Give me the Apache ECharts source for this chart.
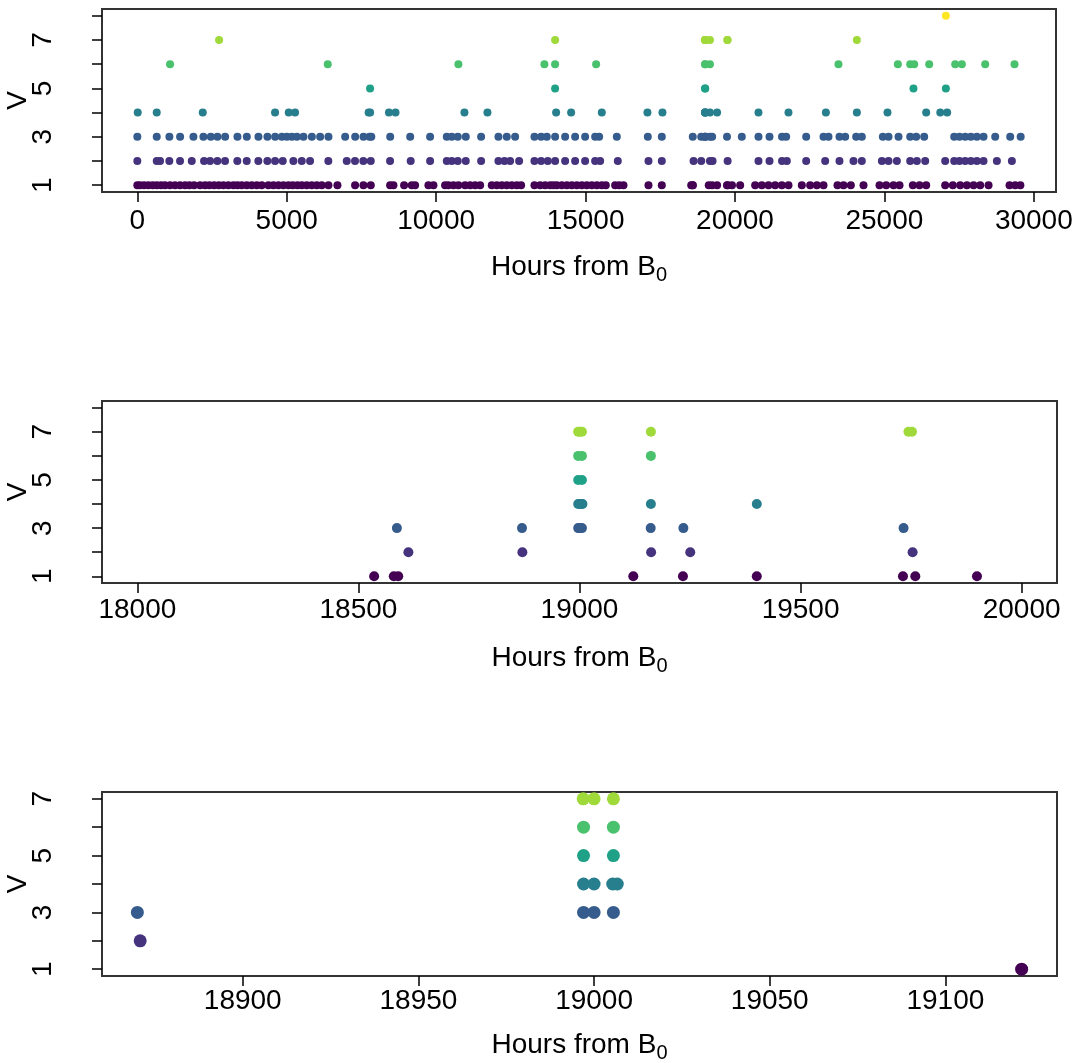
<!DOCTYPE html>
<html><head><meta charset="utf-8">
<script src="https://cdn.jsdelivr.net/npm/echarts@6/dist/echarts.min.js"></script>
<style>html,body{margin:0;padding:0;background:#fff}#c{width:1088px;height:1063px}</style>
</head><body><div id="c"></div>
<script>
// ---- data: event times (hours from B0) for each level V ----
const levels = [1, 2, 3, 4, 5, 6, 7, 8];
const levelColors = ["#440154", "#46337E", "#365C8D", "#277F8E", "#1FA187", "#4AC16D", "#9FDA3A", "#FDE725"];

const hoursV1 = [0, 91, 225, 370, 515, 649, 794, 928, 1095, 1262, 1430, 1597, 1742, 1898, 2099, 2266, 2411, 2568, 2724, 2880, 3047, 3215, 3349, 3494, 3661, 3828, 3996, 4163, 4386, 4554, 4721, 4888, 5056, 5201, 5357, 5502, 5669, 5837, 6004, 6171, 6395, 6696, 7287, 7566, 7812, 8459, 8570, 8927, 9184, 9295, 9741, 9909, 10299, 10411, 10578, 10745, 10969, 11136, 11303, 11471, 11861, 12029, 12196, 12363, 12531, 12698, 12843, 13289, 13479, 13646, 13813, 13925, 14037, 14204, 14372, 14539, 14706, 14874, 15041, 15208, 15376, 15543, 15677, 15989, 16123, 16268, 17105, 17551, 18535.5, 18580, 18590, 19121.7, 19234, 19401, 19731.6, 19759.5, 19899, 20173, 20675, 20898, 21121, 21344, 21567, 21790, 22237, 22515, 22739, 22962, 23430, 23631, 23877, 24301, 24836, 25060, 25305, 25506, 25952, 26175, 26398, 27034, 27291, 27536, 27760, 27983, 28206, 28485, 29188, 29377, 29550];
const hoursV2 = [0, 649, 760, 1071, 1429, 1821, 2233, 2434, 2678, 2935, 3346, 3661, 4049, 4351, 4609, 4866, 5221, 5502, 5780, 6392, 7008, 7285, 7563, 7811, 8457, 9148, 9797, 10355, 10522, 10723, 10991, 11504, 12084, 12285, 12475, 12776, 13289, 13512, 13735, 13981, 14316, 14650, 14985, 15320, 15487, 16078, 17105, 17551, 18613, 18870.8, 19162, 19250.5, 19753.4, 20786, 21155, 21574, 21735, 22382, 23018, 23497, 23966, 24245, 24915, 25138, 25417, 25863, 26086, 26365, 27034, 27336, 27514, 27704, 27893, 28094, 28317, 28764, 29266];
const hoursV3 = [0, 649, 1073, 1431, 1877, 2211, 2459, 2680, 2938, 3350, 3664, 4053, 4354, 4611, 4836, 5003, 5171, 5338, 5559, 5840, 6118, 6396, 6955, 7290, 7568, 7769, 7830, 8462, 9131, 9797, 10355, 10522, 10723, 10991, 11504, 12084, 12363, 12642, 13289, 13512, 13702, 13981, 14316, 14650, 14985, 15320, 15454, 16045, 17083, 17551, 18587, 18870, 18997, 19000, 19005.5, 19161, 19235, 19733, 20228, 20786, 21155, 21574, 21712, 22382, 22962, 23129, 23497, 23687, 24055, 24245, 24948, 25138, 25472, 25863, 26063, 26331, 27336, 27514, 27704, 27893, 28094, 28317, 28708, 29210, 29560];
const hoursV4 = [13, 649, 2189, 4609, 5067, 5278, 7740, 7790, 8420, 8640, 10946, 11716, 14014, 14516, 15543, 17070, 17572, 18997, 19000, 19005.3, 19006.6, 19161.5, 19401, 20786, 21790, 23042, 24079, 25103, 26398, 26870, 27100];
const hoursV5 = [7788, 13980, 18997, 19005.5, 25973, 27057];
const hoursV6 = [1095, 6372, 10744, 13622, 13980, 15353, 18997, 19005.5, 19161.5, 23463, 25450, 25863, 25997, 26499, 27369, 27592, 28373, 29354];
const hoursV7 = [2735, 13980, 18996.9, 19000, 19005.5, 19161.5, 19744, 19752, 24079];
const hoursV8 = [27057];

// ---- axis ticks / labels ----
const xTicksTop = [0, 5000, 10000, 15000, 20000, 25000, 30000];
const xTicksMid = [18000, 18500, 19000, 19500, 20000];
const xTicksBot = [18900, 18950, 19000, 19050, 19100];
const yTicksFull = [1, 2, 3, 4, 5, 6, 7, 8];
const yTicksBot = [1, 2, 3, 4, 5, 6, 7];
const yLabelVals = [1, 3, 5, 7];
const xlimMid = [18000, 20000];
const xlimBot = [18870, 19121.7];
const xTitle = '{a|Hours from B}{s|0}';
const yTitle = 'V';

const hoursByLevel = [hoursV1, hoursV2, hoursV3, hoursV4, hoursV5, hoursV6, hoursV7, hoursV8];

// R-style 4% axis expansion
function expand(lo, hi) { const d = (hi - lo) * 0.04; return [lo - d, hi + d]; }
const allHours = [].concat(...hoursByLevel);
const xlimTop = [Math.min(...allHours), Math.max(...allHours)];

const FONT = "'Liberation Sans',Arial,Helvetica,sans-serif";
const FS = 28;
const BLACK = '#000';

const grids = [
  { left: 102, top: 9, width: 954, height: 183 },
  { left: 102, top: 401, width: 955, height: 182 },
  { left: 102, top: 792, width: 955, height: 184 }
];
const panels = [
  { xr: expand(xlimTop[0], xlimTop[1]), xt: xTicksTop, yr: expand(1, 8), yt: yTicksFull, size: 8, win: null, lm: 15, ng: 57 },
  { xr: expand(xlimMid[0], xlimMid[1]), xt: xTicksMid, yr: expand(1, 8), yt: yTicksFull, size: 10, win: expand(xlimMid[0], xlimMid[1]), lm: 13, ng: 57 },
  { xr: expand(xlimBot[0], xlimBot[1]), xt: xTicksBot, yr: expand(1, 7), yt: yTicksBot, size: 13, win: expand(xlimBot[0], xlimBot[1]), lm: 11, ng: 51 }
];

const xAxes = [], yAxes = [], series = [];
panels.forEach((p, i) => {
  xAxes.push({
    gridIndex: i, type: 'value', min: p.xr[0], max: p.xr[1],
    axisLine: { show: false, onZero: false },
    axisTick: { show: true, length: 10, inside: false, customValues: p.xt, lineStyle: { color: BLACK, width: 1.5 } },
    axisLabel: { customValues: p.xt, formatter: v => String(v), margin: p.lm, color: BLACK, fontSize: FS, fontFamily: FONT, showMinLabel: true, showMaxLabel: true, hideOverlap: false },
    splitLine: { show: false },
    name: xTitle, nameLocation: 'middle', nameGap: p.ng, nameMoveOverlap: false,
    nameTextStyle: { color: BLACK, fontFamily: FONT, rich: {
      a: { fontSize: FS, fontFamily: FONT, color: BLACK },
      s: { fontSize: 20, fontFamily: FONT, color: BLACK, padding: [16, 0, 0, 0] }
    } }
  });
  yAxes.push({
    gridIndex: i, type: 'value', min: p.yr[0], max: p.yr[1],
    axisLine: { show: false, onZero: false },
    axisTick: { show: true, length: 10, customValues: p.yt, lineStyle: { color: BLACK, width: 1.5 } },
    axisLabel: { customValues: yLabelVals, formatter: v => String(v), rotate: 90, margin: 45, color: BLACK, fontSize: FS, fontFamily: FONT },
    splitLine: { show: false },
    name: yTitle, nameLocation: 'middle', nameRotate: 90, nameGap: 70, nameMoveOverlap: false,
    nameTextStyle: { color: BLACK, fontFamily: FONT, fontSize: FS }
  });
  levels.forEach((lv, k) => {
    const pts = hoursByLevel[k]
      .filter(h => !p.win || (h >= p.win[0] && h <= p.win[1]))
      .map(h => [h, lv]);
    series.push({
      type: 'scatter', xAxisIndex: i, yAxisIndex: i, data: pts,
      symbol: 'circle', symbolSize: p.size, silent: true,
      itemStyle: { color: levelColors[k], opacity: 1 }
    });
  });
});

const chart = echarts.init(document.getElementById('c'), null, { renderer: 'canvas' });
chart.setOption({
  animation: false,
  backgroundColor: '#fff',
  grid: grids.map(g => Object.assign({ show: true, borderColor: '#333', borderWidth: 2, backgroundColor: 'transparent', outerBoundsMode: 'none', containLabel: false }, g)),
  xAxis: xAxes,
  yAxis: yAxes,
  series: series
});
</script>
</body></html>
